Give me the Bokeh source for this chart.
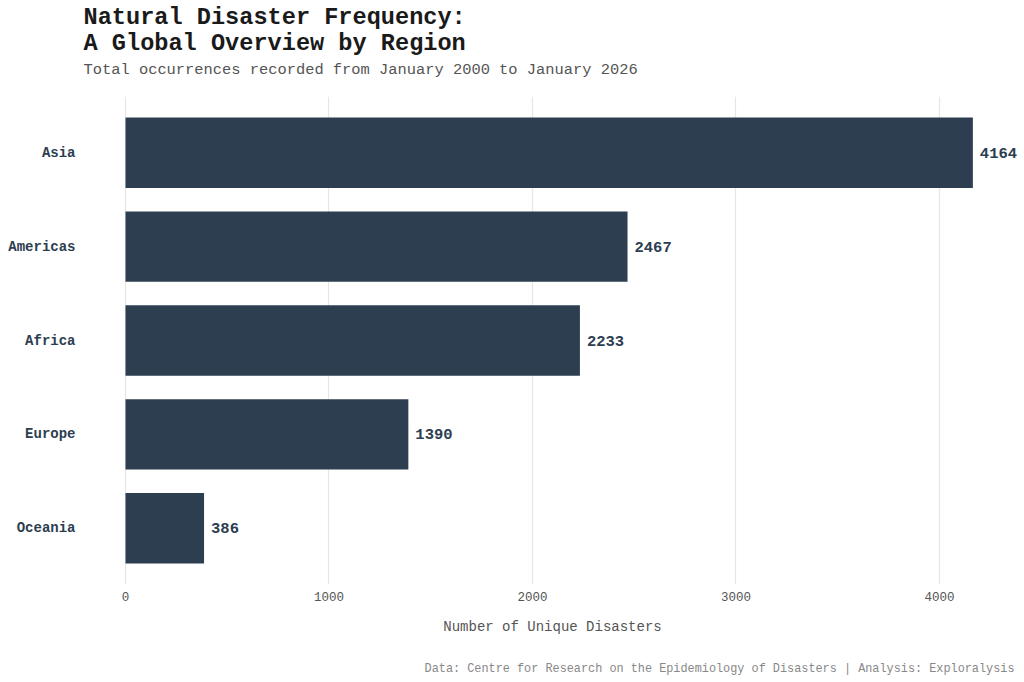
from bokeh.plotting import figure
from bokeh.models import ColumnDataSource, LabelSet, Title, FactorRange, Range1d, FixedTicker, LinearAxis
from bokeh.core.properties import value
from bokeh.embed import file_html
from bokeh.resources import INLINE

regions = ["Asia", "Americas", "Africa", "Europe", "Oceania"]
counts = [4164, 2467, 2233, 1390, 386]
x_ticks = [0, 1000, 2000, 3000, 4000]

title_lines = ["Natural Disaster Frequency:", "A Global Overview by Region"]
subtitle = "Total occurrences recorded from January 2000 to January 2026"
caption = "Data: Centre for Research on the Epidemiology of Disasters | Analysis: Exploralysis"
x_label = "Number of Unique Disasters"

MONO = "Liberation Mono"
BAR = "#2c3e50"

src = ColumnDataSource(dict(region=regions, count=counts, label=[str(c) for c in counts]))

p = figure(
    width=1021, height=680,
    y_range=FactorRange(factors=list(reversed(regions)), range_padding=0.1, range_padding_units="absolute"),
    x_range=Range1d(-206.4, 4403),
    output_backend="svg", toolbar_location=None,
    min_border_left=83, min_border_right=0, min_border_top=96, min_border_bottom=96,
    background_fill_color="white", border_fill_color="white",
)
p.outline_line_color = None

p.hbar(y="region", right="count", left=0, height=0.75, source=src,
       fill_color=BAR, line_color=None)

labels = LabelSet(x="count", y="region", text="label", source=src, x_offset=7,
                  text_baseline="middle", text_align="left",
                  text_font=value(MONO), text_font_style="bold", text_font_size="15.5px",
                  text_color=BAR)
p.add_layout(labels)

# axes
p.xaxis.ticker = FixedTicker(ticks=x_ticks)
p.xaxis.axis_line_color = None
p.xaxis.major_tick_line_color = None
p.xaxis.minor_tick_line_color = None
p.xaxis.major_tick_out = 0
p.xaxis.major_tick_in = 0
p.xaxis.minor_tick_out = 0
p.xaxis.major_label_text_font = MONO
p.xaxis.major_label_text_font_size = "12.5px"
p.xaxis.major_label_text_color = "#555555"
p.xaxis.major_label_standoff = 7
p.xaxis.axis_label = x_label
p.xaxis.axis_label_text_font = MONO
p.xaxis.axis_label_text_font_size = "14px"
p.xaxis.axis_label_text_font_style = "normal"
p.xaxis.axis_label_text_color = "#555555"
p.xaxis.axis_label_standoff = 15

p.yaxis.axis_line_color = None
p.yaxis.major_tick_line_color = None
p.yaxis.minor_tick_line_color = None
p.yaxis.major_tick_out = 0
p.yaxis.major_tick_in = 0
p.yaxis.minor_tick_out = 0
p.yaxis.major_label_text_font = MONO
p.yaxis.major_label_text_font_style = "bold"
p.yaxis.major_label_text_font_size = "14px"
p.yaxis.major_label_text_color = BAR
p.yaxis.major_label_standoff = 8

p.ygrid.grid_line_color = None
p.xgrid.grid_line_color = "#e6e6e6"
p.xgrid.grid_line_width = 1.2


def spacer(px):
    # an invisible axis (one unlabeled, uncoloured tick) that only reserves space
    return LinearAxis(ticker=FixedTicker(ticks=[0]), major_label_overrides={0: ""},
                      axis_line_color=None, major_tick_line_color=None,
                      minor_tick_line_color=None, major_tick_in=0, major_tick_out=px,
                      minor_tick_out=0, major_label_standoff=0)

# heading (panels are stacked from the frame outward)
p.add_layout(spacer(17), "above")
sub = Title(text=subtitle, text_font=MONO, text_font_size="15.4px", text_font_style="normal",
            text_color="#555555", standoff=2)
p.add_layout(sub, "above")
head = Title(text="\n".join(title_lines), text_font=MONO, text_font_size="23.6px",
             text_font_style="bold", text_color="#1a1a1a", standoff=0, text_line_height=0.98)
p.add_layout(head, "above")

# caption below the x axis
p.add_layout(spacer(22), "below")
cap = Title(text=caption, text_font=MONO, text_font_size="11.85px", text_font_style="normal",
            text_color="#888888", align="right", offset=7, standoff=0)
p.add_layout(cap, "below")

open("out.html", "w").write(file_html(p, INLINE))
